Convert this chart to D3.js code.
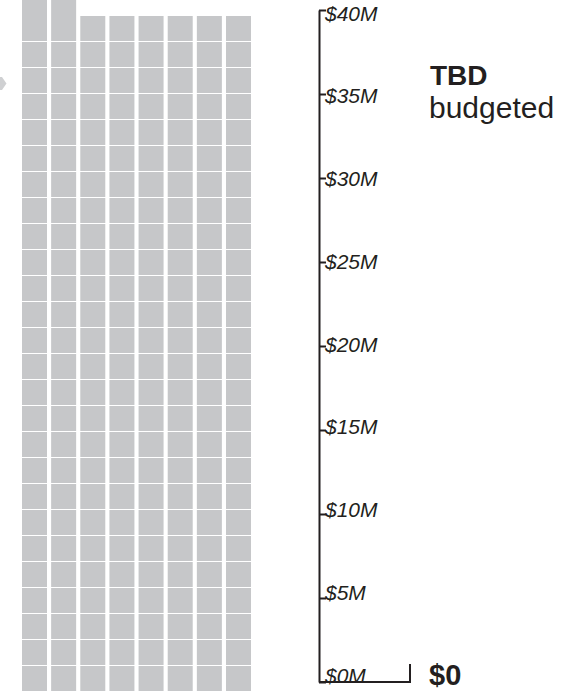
<!DOCTYPE html>
<html>
<head>
<meta charset="utf-8">
<script src="https://cdn.jsdelivr.net/npm/d3@7"></script>
<style>
  html, body { margin: 0; padding: 0; background: #fff; }
  svg { display: block; font-family: "Liberation Sans", Arial, sans-serif; }
</style>
</head>
<body>
<svg id="chart" width="578" height="691"></svg>
<script>
// waffle: number of squares stacked in each column (bottom up)
const columns = [0, 1, 2, 3, 4, 5, 6, 7];
const cellCounts = [27, 27, 26, 26, 26, 26, 26, 26];

// budget axis, in millions
const tickValues = [0, 5, 10, 15, 20, 25, 30, 35, 40];
const budgetValue = 0;
const budgetLabel = '$0';
const statusTitle = 'TBD';
const statusSub = 'budgeted';

const svg = d3.select('#chart');
const ink = '#231f20';
const cellColor = '#c6c7c9';

// --- waffle grid ---
const x = d3.scaleBand().domain(columns).range([22, 251]).paddingInner(0.142);
const row = d3.scaleLinear().domain([0, 26]).range([666, -10]);

const cells = [];
columns.forEach(c => {
  d3.range(cellCounts[c]).forEach(r => cells.push({ col: c, row: r }));
});

svg.append('g').selectAll('rect').data(cells).join('rect')
  .attr('x', d => x(d.col))
  .attr('y', d => row(d.row))
  .attr('width', x.bandwidth())
  .attr('height', d => d.row === 26 ? 26 : 25) // top cell runs into the one below (cropped)
  .attr('fill', cellColor);

// little scroll arrow on the left edge
svg.append('polygon')
  .attr('points', '0,77 2,77 6.5,83.5 2,90 0,90')
  .attr('fill', '#cfd0d2');

// --- axis ---
const y = d3.scaleLinear().domain([0, 40]).range([682, 10]);
const yLab = d3.scaleLinear().domain([0, 40]).range([682, 20]);

const axis = svg.append('g')
  .attr('transform', 'translate(319,0)')
  .call(d3.axisRight(y).tickValues(tickValues).tickSize(7).tickSizeOuter(0)
    .tickFormat(d => `$${d}M`));

axis.select('.domain').attr('stroke', ink).attr('stroke-width', 2);
axis.selectAll('.tick line').attr('stroke', ink).attr('stroke-width', 2);
axis.selectAll('.tick text')
  .attr('x', null).attr('dy', null)
  .attr('transform', d => `translate(6,${yLab(d) - y(d)}) scale(1.05,1)`)
  .attr('fill', ink)
  .style('font-size', '20px')
  .style('font-style', 'italic')
  .style('font-family', '"Liberation Sans", Arial, sans-serif');

// baseline out to the budget marker
svg.append('path')
  .attr('d', `M319,${y(budgetValue)} H410 V${y(budgetValue) - 18}`)
  .attr('fill', 'none')
  .attr('stroke', ink)
  .attr('stroke-width', 2);

svg.append('text')
  .attr('x', 429).attr('y', y(budgetValue) + 3)
  .attr('fill', ink)
  .style('font-size', '29px').style('font-weight', 'bold')
  .text(budgetLabel);

// status label
svg.append('text')
  .attr('x', 430).attr('y', 85)
  .attr('fill', ink)
  .style('font-size', '28px').style('font-weight', 'bold')
  .text(statusTitle);

svg.append('text')
  .attr('x', 429).attr('y', 118)
  .attr('fill', ink)
  .style('font-size', '30px')
  .text(statusSub);
</script>
</body>
</html>
